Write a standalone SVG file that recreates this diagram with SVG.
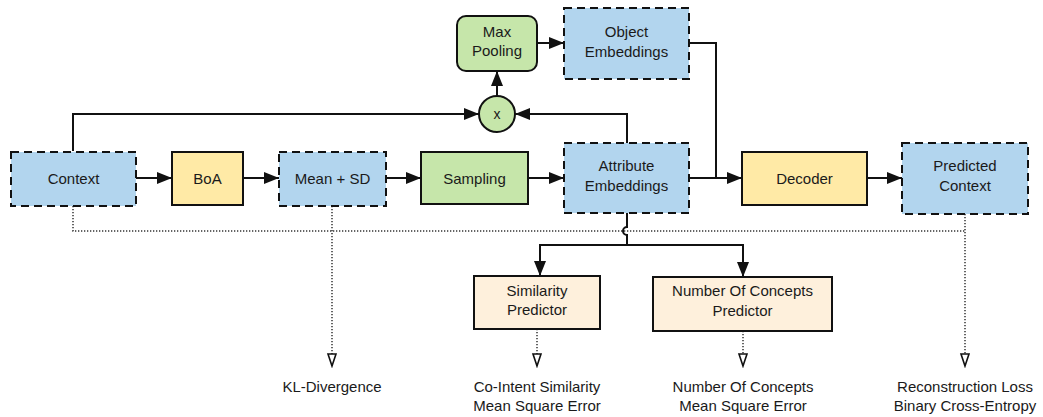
<svg xmlns="http://www.w3.org/2000/svg" width="1043" height="417" viewBox="0 0 1043 417">
<style>
text{font-family:"Liberation Sans",Arial,sans-serif;font-size:15px;fill:#1a1a1a;text-anchor:middle}
.blue{fill:#b2d5ee;stroke:#111;stroke-width:2;stroke-dasharray:8 5}
.yellow{fill:#ffeaa6;stroke:#111;stroke-width:2}
.green{fill:#c6e6aa;stroke:#111;stroke-width:2}
.peach{fill:#fef0dc;stroke:#111;stroke-width:2}
.c{fill:none;stroke:#111;stroke-width:2}
.d{fill:none;stroke:#333;stroke-width:1.5;stroke-dasharray:1.3 1.7}
</style>
<defs>
<marker id="arr" markerUnits="userSpaceOnUse" markerWidth="16" markerHeight="13" refX="15" refY="6" orient="auto">
<path d="M0,0 L15,6 L0,12 z" fill="#111"/>
</marker>
<marker id="open" markerUnits="userSpaceOnUse" markerWidth="15" markerHeight="12" refX="13" refY="5" orient="auto">
<path d="M1,1 L13,5 L1,9 z" fill="#fff" stroke="#111" stroke-width="1.6"/>
</marker>
</defs>
<g id="connectors">
<path class="c" d="M136 178 H172" marker-end="url(#arr)"/>
<path class="c" d="M243 178 H279" marker-end="url(#arr)"/>
<path class="c" d="M386 178 H421" marker-end="url(#arr)"/>
<path class="c" d="M528 178 H564" marker-end="url(#arr)"/>
<path class="c" d="M689 178 H742" marker-end="url(#arr)"/>
<path class="c" d="M867 178 H902" marker-end="url(#arr)"/>
<path class="c" d="M73 151 V114 H479" marker-end="url(#arr)"/>
<path class="c" d="M627 143 V114 H515" marker-end="url(#arr)"/>
<path class="c" d="M497 96 V71" marker-end="url(#arr)"/>
<path class="c" d="M537 43 H564" marker-end="url(#arr)"/>
<path class="c" d="M689 43 H716 V178"/>
<path class="d" d="M73 206 V231 H965"/>
<path class="d" d="M332 206 V366" marker-end="url(#open)"/>
<path class="d" d="M965 214 V366" marker-end="url(#open)"/>
<path class="d" d="M537 329 V366" marker-end="url(#open)"/>
<path class="d" d="M743 331 V366" marker-end="url(#open)"/>
<path class="c" d="M627 213 V227 A4 4 0 0 0 627 235 V245"/>
<path class="c" d="M627 245 H540 V276" marker-end="url(#arr)"/>
<path class="c" d="M627 245 H743 V277" marker-end="url(#arr)"/>
</g>
<g id="context"><rect class="blue" x="11" y="152" width="125" height="54"/><text x="73.5" y="184">Context</text></g>
<g id="boa"><rect class="yellow" x="172" y="152" width="71" height="53"/><text x="207.5" y="184">BoA</text></g>
<g id="meansd"><rect class="blue" x="279" y="152" width="107" height="54"/><text x="332.5" y="184">Mean + SD</text></g>
<g id="sampling"><rect class="green" x="421" y="152" width="107" height="52"/><text x="474.5" y="184">Sampling</text></g>
<g id="attribute"><rect class="blue" x="564" y="143" width="125" height="70"/><text x="626.5" y="171">Attribute</text><text x="626.5" y="191">Embeddings</text></g>
<g id="object"><rect class="blue" x="564" y="8" width="125" height="71"/><text x="626.5" y="37">Object</text><text x="626.5" y="57">Embeddings</text></g>
<g id="maxpool"><rect class="green" x="457" y="16" width="80" height="55" rx="9"/><text x="497" y="37">Max</text><text x="497" y="56">Pooling</text></g>
<g id="mult"><circle class="green" cx="497" cy="114" r="18"/><text x="497" y="119" style="font-size:14px">x</text></g>
<g id="decoder"><rect class="yellow" x="742" y="152" width="125" height="53"/><text x="804.5" y="184">Decoder</text></g>
<g id="predicted"><rect class="blue" x="902" y="143" width="126" height="71"/><text x="965" y="171">Predicted</text><text x="965" y="191">Context</text></g>
<g id="simpred"><rect class="peach" x="474" y="276" width="126" height="53"/><text x="537" y="296">Similarity</text><text x="537" y="315">Predictor</text></g>
<g id="numpred"><rect class="peach" x="653" y="277" width="179" height="54"/><text x="742.5" y="296">Number Of Concepts</text><text x="742.5" y="316">Predictor</text></g>
<g id="kl"><text x="332" y="392">KL-Divergence</text></g>
<g id="simloss"><text x="537" y="392">Co-Intent Similarity</text><text x="537" y="411">Mean Square Error</text></g>
<g id="numloss"><text x="743" y="392">Number Of Concepts</text><text x="743" y="411">Mean Square Error</text></g>
<g id="recloss"><text x="965" y="392">Reconstruction Loss</text><text x="965" y="411">Binary Cross-Entropy</text></g>
</svg>
